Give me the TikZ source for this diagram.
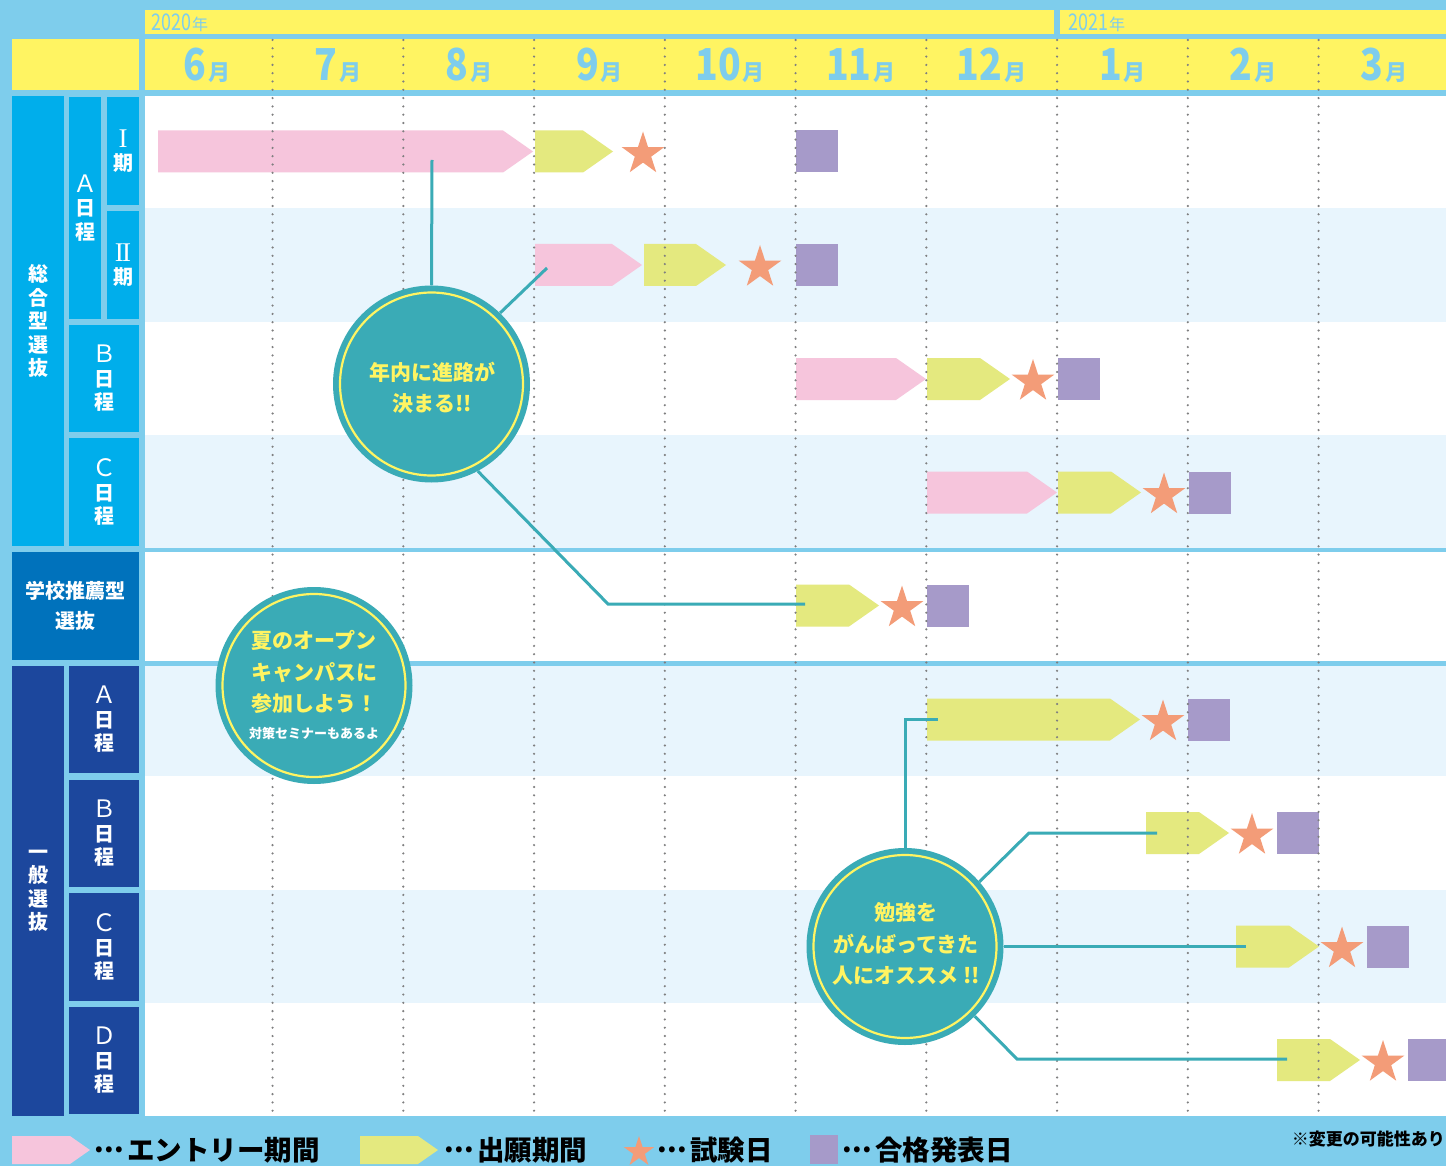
\documentclass[tikz,border=0pt]{standalone}
\usepackage{fontspec}
\usepackage{graphicx}
\newfontfamily\jp{Noto Sans CJK JP}
\newfontfamily\romf{Liberation Serif}
\definecolor{bgblue}{HTML}{7ECDEC}
\definecolor{hdrylw}{HTML}{FFF462}
\definecolor{rowlt}{HTML}{E8F5FD}
\definecolor{cyanc}{HTML}{00AEEB}
\definecolor{midb}{HTML}{0072BC}
\definecolor{darkb}{HTML}{1C479D}
\definecolor{pinkc}{HTML}{F6C5DC}
\definecolor{ylwg}{HTML}{E4E97F}
\definecolor{starc}{HTML}{F39C78}
\definecolor{purp}{HTML}{A69AC9}
\definecolor{tealc}{HTML}{3AABB6}
\definecolor{dotc}{HTML}{7F7F80}
\pgfdeclarelayer{fg}
\pgfsetlayers{main,fg}
\newcommand{\garrow}[4]{\fill[#4] (#1,#3-21) -- (#2-30,#3-21) -- (#2,#3) -- (#2-30,#3+21) -- (#1,#3+21) -- cycle;}
\newcommand{\mystar}[3]{\fill[starc] (#1,#2) +(-90:#3) -- +(-54:0.382*#3) -- +(-18:#3) -- +(18:0.382*#3) -- +(54:#3) -- +(90:0.382*#3) -- +(126:#3) -- +(162:0.382*#3) -- +(198:#3) -- +(234:0.382*#3) -- cycle;}
\newcommand{\psq}[2]{\fill[purp] (#1,#2-21) rectangle (#1+42,#2+21);}
\newcommand{\mydots}{\raisebox{0.3em}{.\kern0.02em.\kern0.02em.}\kern0.1em}
\begin{document}
\begin{tikzpicture}[x=1pt,y=-1pt]
\tikzset{
 lbl/.style={inner sep=0pt, text=white, align=center, font=\jp\bfseries\fontsize{20}{23.5}\selectfont},
 bigc/.style={circle, fill=tealc, minimum size=197pt, inner sep=0pt},
 ring/.style={draw=hdrylw, line width=2.2pt},
 ctext/.style={inner sep=0pt, align=center, text=hdrylw, font=\jp\bfseries\fontsize{21}{31.5}\selectfont},
 conn/.style={draw=tealc, line width=3pt},
 gridl/.style={draw=dotc, line width=2.4pt, line cap=round, dash pattern=on 0pt off 8.3pt},
 month/.style={anchor=base, inner sep=0pt, text=bgblue, font=\jp\bfseries},
 yeart/.style={anchor=base west, inner sep=0pt, text=bgblue, font=\jp},
 legt/.style={anchor=west, inner sep=0pt, text=black, font=\jp\bfseries\fontsize{27.5}{27.5}\selectfont},
}
\useasboundingbox (0,0) rectangle (1446,1166);
\clip (0,0) rectangle (1446,1166);
\fill[bgblue] (0,0) rectangle (1446,1166);
% year band
\fill[hdrylw] (145,10) rectangle (1446,34);
\fill[bgblue] (1054,10) rectangle (1060,34);
\node[yeart] (y2020) at (151,31) {\fontsize{23}{23}\selectfont\scalebox{0.78}[1]{2020}\hspace{1pt}\fontsize{16}{16}\selectfont 年};
\node[yeart] (y2021) at (1068,31) {\fontsize{23}{23}\selectfont\scalebox{0.78}[1]{2021}\hspace{1pt}\fontsize{16}{16}\selectfont 年};
% month band
\fill[hdrylw] (12,39) rectangle (139,90);
\fill[hdrylw] (145,39) rectangle (1446,90);
\foreach \m [count=\k from 0] in {6,7,8,9,10,11,12,1,2,3}{
  \node[month] (m\k) at ({141.8+130.75*(\k+0.5)},81) {\fontsize{44}{44}\selectfont\scalebox{0.85}[1]{\m}\hspace{2pt}\fontsize{22}{22}\selectfont 月};
}
% rows
\fill[white] (145,96) rectangle (1446,548);
\fill[white] (145,552) rectangle (1446,661);
\fill[white] (145,666) rectangle (1446,1116);
\fill[rowlt] (145,208) rectangle (1446,322);
\fill[rowlt] (145,435) rectangle (1446,548);
\fill[rowlt] (145,666) rectangle (1446,776);
\fill[rowlt] (145,890) rectangle (1446,1003);
% left labels
\node[lbl, fill=cyanc, minimum width=52pt, minimum height=450pt] (sogo) at (38,321) {総\\合\\型\\選\\抜};
\node[lbl, fill=cyanc, minimum width=32pt, minimum height=222pt] (sa) at (85,208) {{\mdseries\fontsize{24}{24}\selectfont Ａ}\\日\\程};
\node[lbl, fill=cyanc, minimum width=32pt, minimum height=108pt] (s1) at (123,151) {{\romf\mdseries\fontsize{27}{27}\selectfont I}\\期};
\node[lbl, fill=cyanc, minimum width=32pt, minimum height=108pt] (s2) at (123,265) {{\romf\mdseries\fontsize{27}{27}\selectfont I\kern-0.06em I}\\期};
\node[lbl, fill=cyanc, minimum width=70pt, minimum height=107pt] (sb) at (104,378.5) {{\mdseries\fontsize{24}{24}\selectfont Ｂ}\\日\\程};
\node[lbl, fill=cyanc, minimum width=70pt, minimum height=108pt] (sc) at (104,492) {{\mdseries\fontsize{24}{24}\selectfont Ｃ}\\日\\程};
\node[lbl, fill=midb, minimum width=127pt, minimum height=108pt, font=\jp\bfseries\fontsize{20}{30}\selectfont] (suisen) at (75.5,606) {学校推薦型\\選抜};
\node[lbl, fill=darkb, minimum width=52pt, minimum height=450pt] (ippan) at (38,891) {一\\般\\選\\抜};
\node[lbl, fill=darkb, minimum width=70pt, minimum height=107pt] (ga) at (104,719.5) {{\mdseries\fontsize{24}{24}\selectfont Ａ}\\日\\程};
\node[lbl, fill=darkb, minimum width=70pt, minimum height=107pt] (gb) at (104,833.5) {{\mdseries\fontsize{24}{24}\selectfont Ｂ}\\日\\程};
\node[lbl, fill=darkb, minimum width=70pt, minimum height=108pt] (gc) at (104,947) {{\mdseries\fontsize{24}{24}\selectfont Ｃ}\\日\\程};
\node[lbl, fill=darkb, minimum width=70pt, minimum height=107pt] (gd) at (104,1060.5) {{\mdseries\fontsize{24}{24}\selectfont Ｄ}\\日\\程};
% bars
\garrow{158}{533}{151.5}{pinkc} \garrow{535}{613}{151.5}{ylwg} \mystar{643}{154}{22.5} \psq{796}{151.5}
\garrow{535}{642}{265}{pinkc} \garrow{644}{726}{265}{ylwg} \mystar{760}{267.5}{22.5} \psq{796}{265}
\garrow{796}{926}{379}{pinkc} \garrow{927}{1010}{379}{ylwg} \mystar{1033}{381.5}{22.5} \psq{1058}{379}
\garrow{927}{1057}{492.5}{pinkc} \garrow{1058}{1141}{492.5}{ylwg} \mystar{1164}{495}{22.5} \psq{1189}{492.5}
\garrow{796}{879}{605.5}{ylwg} \mystar{902}{608}{22.5} \psq{927}{605.5}
\garrow{927}{1140}{719.5}{ylwg} \mystar{1163}{722}{22.5} \psq{1188}{719.5}
\garrow{1146}{1229}{833}{ylwg} \mystar{1252}{835.5}{22.5} \psq{1277}{833}
\garrow{1236}{1319}{946.5}{ylwg} \mystar{1342}{949}{22.5} \psq{1367}{946.5}
\garrow{1277}{1360}{1060}{ylwg} \mystar{1383}{1062.5}{22.5} \psq{1408}{1060}
% dotted month lines
\foreach \k in {1,...,9}{
  \draw[gridl] ({141.8+130.75*\k},40) -- ({141.8+130.75*\k},1116);
}
% circles
\begin{pgfonlayer}{fg}
\node[bigc] (c1) at (431.5,384) {};
\draw[ring] (c1.center) circle[radius=91.5pt];
\node[ctext] (t1) at (432,388) {年内に進路が\\決まる!!};
\node[bigc] (c2) at (314,685.5) {};
\draw[ring] (c2.center) circle[radius=91.5pt];
\node[ctext] (t2) at (314,685) {夏のオープン\\キャンパスに\\参加しよう！\\[-5pt]{\color{white}\fontsize{13}{14}\selectfont 対策セミナーもあるよ}};
\node[bigc] (c3) at (905,946.5) {};
\draw[ring] (c3.center) circle[radius=91.5pt];
\node[ctext] (t3) at (906,944) {勉強を\\がんばってきた\\人にオススメ !!};
\end{pgfonlayer}
% connectors
\coordinate (e1) at (432,160);
\coordinate (e2) at (547,268);
\coordinate (k3) at (608,604);
\coordinate (e5) at (805,604);
\coordinate (e6) at (938,719);
\coordinate (k1) at (1029,833);
\coordinate (e7) at (1157,833);
\coordinate (e8) at (1246,946.5);
\coordinate (k2) at (1017,1059);
\coordinate (e9) at (1287,1059);
\draw[conn] (c1.north) -- (e1);
\draw[conn] (c1.46) -- (e2);
\draw[conn] (c1.-62) -- (k3) -- (e5);
\draw[conn] (c3.north) |- (e6);
\draw[conn] (c3.41) -- (k1) -- (e7);
\draw[conn] (c3.east) -- (e8);
\draw[conn] (c3.-45) -- (k2) -- (e9);
% legend
\fill[pinkc] (12,1136) -- (70,1136) -- (90,1150) -- (70,1164) -- (12,1164) -- cycle;
\node[legt] (l1) at (94,1150) {\mydots エントリー期間};
\fill[ylwg] (360,1136) -- (418,1136) -- (438,1150) -- (418,1164) -- (360,1164) -- cycle;
\node[legt] (l2) at (444,1150) {\mydots 出願期間};
\mystar{639}{1152}{16}
\node[legt] (l3) at (657,1150) {\mydots 試験日};
\fill[purp] (810,1135) rectangle (838,1164);
\node[legt] (l4) at (842,1150) {\mydots 合格発表日};
\node[anchor=east, inner sep=0pt, font=\jp\bfseries\fontsize{17}{17}\selectfont] (note) at (1445,1139) {※変更の可能性あり};
\end{tikzpicture}
\end{document}
